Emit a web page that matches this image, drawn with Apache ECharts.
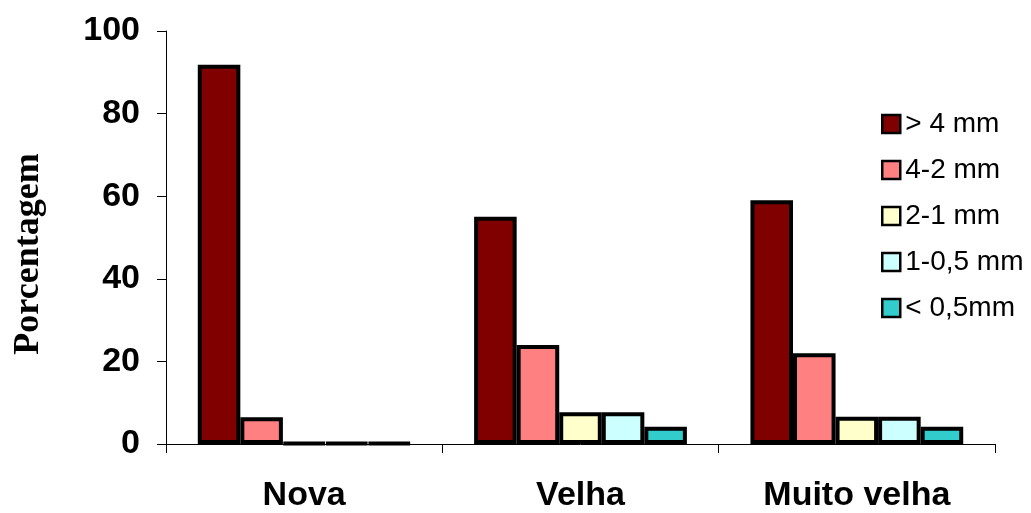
<!DOCTYPE html>
<html>
<head>
<meta charset="utf-8">
<script src="https://cdn.jsdelivr.net/npm/echarts@6/dist/echarts.min.js"></script>
<style>
  html, body { margin: 0; padding: 0; background: #fff; }
  #chart { width: 1031px; height: 513px; }
</style>
</head>
<body>
<div id="chart"></div>
<script>
// Soil aggregate size classes (%) by area age
const categories = ['Nova', 'Velha', 'Muito velha'];
const seriesNames = ['> 4 mm', '4-2 mm', '2-1 mm', '1-0,5 mm', '< 0,5mm'];
const gt4mm   = [91.8, 55.0, 59.0];
const mm4to2  = [6.5, 24.0, 22.0];
const mm2to1  = [0.2, 7.7, 6.6];
const mm1to05 = [0.2, 7.7, 6.6];
const lt05mm  = [0.2, 4.2, 4.2];
const yTicks = [0, 20, 40, 60, 80, 100];

const values = [gt4mm, mm4to2, mm2to1, mm1to05, lt05mm];
const colors = ['#800000', '#FF8080', '#FFFFCC', '#CCFFFF', '#33CCCC'];

const chart = echarts.init(document.getElementById('chart'), null, { renderer: 'canvas' });

chart.setOption({
  animation: false,
  backgroundColor: '#ffffff',
  grid: { left: 166, right: 36, top: 31, bottom: 67, containLabel: false },
  legend: {
    orient: 'vertical',
    left: 876,
    top: 105,
    itemWidth: 18,
    itemHeight: 18,
    itemGap: 18,
    icon: 'rect',
    itemStyle: { borderColor: '#000', borderWidth: 2.5 },
    textStyle: { fontFamily: 'Liberation Sans, Arial, sans-serif', fontSize: 28, color: '#000' },
    data: seriesNames
  },
  // axis title, set slightly below the plot's vertical middle
  graphic: [{
    type: 'text',
    x: 29,
    y: 254,
    rotation: Math.PI / 2,
    style: {
      text: 'Porcentagem',
      fill: '#000',
      font: 'bold 36px "Liberation Serif", "Times New Roman", serif',
      align: 'center',
      verticalAlign: 'middle'
    }
  }],
  xAxis: {
    type: 'category',
    data: categories,
    axisLine: { lineStyle: { color: '#000', width: 1 } },
    axisTick: { show: true, length: 9, lineStyle: { color: '#000' } },
    axisLabel: {
      margin: 35,
      color: '#000',
      fontFamily: 'Liberation Sans, Arial, sans-serif',
      fontWeight: 'bold',
      fontSize: 34
    }
  },
  yAxis: {
    type: 'value',
    min: yTicks[0],
    max: yTicks[yTicks.length - 1],
    interval: 20,
    axisLine: { show: true, lineStyle: { color: '#000', width: 1 } },
    axisTick: { show: true, length: 9, lineStyle: { color: '#000' } },
    splitLine: { show: false },
    axisLabel: {
      margin: 26,
      color: '#000',
      fontFamily: 'Liberation Sans, Arial, sans-serif',
      fontWeight: 'bold',
      fontSize: 34
    }
  },
  series: seriesNames.map((name, i) => ({
    name: name,
    type: 'bar',
    data: values[i],
    barGap: '0%',
    barCategoryGap: '23%',
    itemStyle: { color: colors[i], borderColor: '#000', borderWidth: 4 }
  }))
});
</script>
</body>
</html>
